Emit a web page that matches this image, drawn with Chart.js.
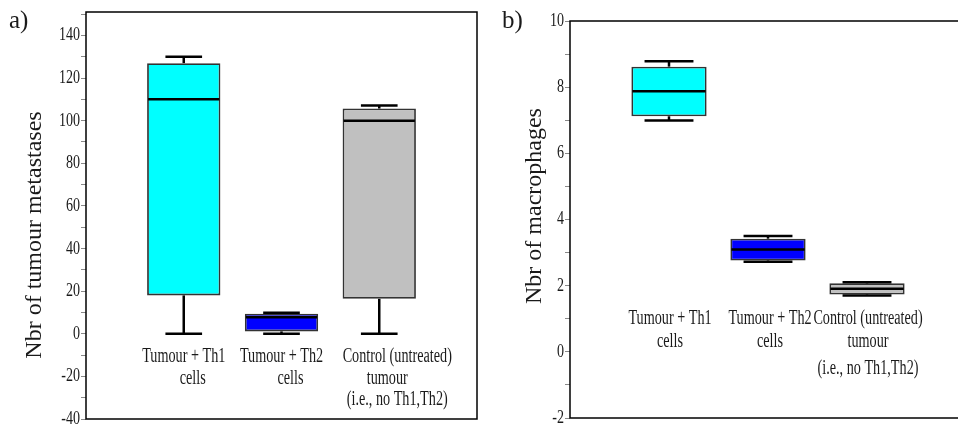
<!DOCTYPE html>
<html>
<head>
<meta charset="utf-8">
<script src="https://cdn.jsdelivr.net/npm/chart.js@4.4.0/dist/chart.umd.min.js"></script>
<style>
  body { margin: 0; background: #fff; overflow: hidden; width: 958px; height: 427px; position: relative; }
  #panelA { position: absolute; left: 0; top: 0; }
  #panelB { position: absolute; left: 480px; top: 0; }
</style>
</head>
<body>
<canvas id="panelA" width="480" height="427"></canvas>
<canvas id="panelB" width="490" height="427"></canvas>
<script>
// grupos (lineas del rotulo de cada caja)
const grupos = [
  ['Tumour + Th1', 'cells'],
  ['Tumour + Th2', 'cells'],
  ['Control (untreated)', 'tumour', '(i.e., no Th1,Th2)']
]
const colores = ['#00ffff', '#0000ff', '#c0c0c0']

// a) metastasis: minimo, cuartiles, mediana, maximo
const metMin = [0, 0, 0]
const metQ1 = [18, 1.1, 16.4]
const metMed = [110, 7.8, 100]
const metQ3 = [127, 9.4, 105.7]
const metMax = [130, 9.9, 107.1]
const ticksA = [-40, -20, 0, 20, 40, 60, 80, 100, 120, 140]

// b) macrofagos
const macMin = [6.99, 2.72, 1.70]
const macQ1 = [7.12, 2.76, 1.73]
const macMed = [7.88, 3.09, 1.91]
const macQ3 = [8.62, 3.42, 2.07]
const macMax = [8.78, 3.50, 2.10]
const ticksB = [-2, 0, 2, 4, 6, 8, 10]

const FUENTE = '"Liberation Serif", "DejaVu Serif", serif'
const TINTA = '#1a1a1a'

// texto estrecho (la fuente se comprime en horizontal)
function texto(ctx, s, x, y, size, align, rotar, k) {
  ctx.save()
  ctx.translate(x, y)
  if (rotar) { ctx.rotate(-Math.PI / 2); ctx.scale(1, k || 0.71) }
  else ctx.scale(k || 0.71, 1)
  ctx.font = size + 'px ' + FUENTE
  ctx.fillStyle = TINTA
  ctx.textAlign = align
  ctx.textBaseline = 'middle'
  ctx.fillText(s, 0, 0)
  ctx.restore()
}

const cajas = {
  id: 'cajas',
  afterDatasetsDraw(chart, args, o) {
    const ctx = chart.ctx, xs = chart.scales.x, ys = chart.scales.y
    const meta = chart.getDatasetMeta(0)
    ctx.save()
    ctx.strokeStyle = '#000'
    ctx.lineWidth = 2.5
    o.med.forEach((m, i) => {
      const bar = meta.data[i]
      const cx = xs.getPixelForValue(i + 1)
      const half = bar.width / 2
      const cap = bar.width * o.cap / 2
      const seg = (x1, y1, x2, y2) => { ctx.beginPath(); ctx.moveTo(x1, y1); ctx.lineTo(x2, y2); ctx.stroke() }
      // bigotes
      seg(cx, ys.getPixelForValue(o.q3[i]), cx, ys.getPixelForValue(o.max[i]))
      seg(cx - cap, ys.getPixelForValue(o.max[i]), cx + cap, ys.getPixelForValue(o.max[i]))
      seg(cx, ys.getPixelForValue(o.q1[i]), cx, ys.getPixelForValue(o.min[i]))
      seg(cx - cap, ys.getPixelForValue(o.min[i]), cx + cap, ys.getPixelForValue(o.min[i]))
      // mediana
      seg(cx - half + 1, ys.getPixelForValue(m), cx + half - 1, ys.getPixelForValue(m))
    })
    ctx.restore()
  },
  afterDraw(chart, args, o) {
    const ctx = chart.ctx, a = chart.chartArea, xs = chart.scales.x, ys = chart.scales.y
    // marco
    ctx.save()
    ctx.strokeStyle = '#000'
    ctx.lineWidth = 1.5
    ctx.strokeRect(a.left, a.top, a.right - a.left, a.bottom - a.top)
    ctx.restore()
    // etiquetas del eje y
    o.ticks.forEach(v => {
      const s = v < 0 ? '-' + Math.abs(v) : String(v)
      texto(ctx, s, a.left - 6, ys.getPixelForValue(v), 19, 'right', false, 0.74)
    })
    texto(ctx, o.titulo, a.left - o.tituloDx, o.tituloY, 24, 'center', true, 0.95)
    // rotulos de los grupos dentro del grafico
    grupos.forEach((lineas, i) => {
      lineas.forEach((s, j) => {
        const x = xs.getPixelForValue(i + 1) + o.dx[i][j]
        texto(ctx, s, x, ys.getPixelForValue(o.filas[j]), 20, 'center')
      })
    })
    ctx.save()
    ctx.font = '25px ' + FUENTE
    ctx.fillStyle = TINTA
    ctx.textBaseline = 'alphabetic'
    ctx.fillText(o.letra, o.letraX, 28)
    ctx.restore()
  }
}

function crear(id, datos, opts) {
  return new Chart(document.getElementById(id), {
    type: 'bar',
    data: {
      datasets: [{
        data: datos.q1.map((q, i) => ({ x: i + 1, y: [q, datos.q3[i]] })),
        backgroundColor: colores,
        borderColor: '#333',
        borderWidth: 1.8,
        borderSkipped: false,
        categoryPercentage: 1,
        barPercentage: opts.ancho
      }]
    },
    plugins: [cajas],
    options: {
      responsive: false,
      animation: false,
      devicePixelRatio: 1,
      layout: { padding: opts.padding },
      plugins: {
        legend: { display: false },
        tooltip: { enabled: false },
        cajas: Object.assign({}, datos, opts.rotulos)
      },
      scales: {
        x: { type: 'linear', min: 0, max: 4, offset: false, display: false, ticks: { stepSize: 1 } },
        y: {
          min: opts.min, max: opts.max,
          afterFit: s => { s.width = opts.izq },
          border: { display: false },
          grid: { drawOnChartArea: false, tickLength: 5, color: '#888' },
          ticks: { display: false, stepSize: opts.paso, includeBounds: false }
        }
      }
    }
  })
}

crear('panelA',
  { min: metMin, q1: metQ1, med: metMed, q3: metQ3, max: metMax, cap: 0.5 },
  {
    ancho: 0.75, min: -40, max: 151, paso: 10, izq: 86,
    padding: { top: 12, bottom: 8, right: 3, left: 0 },
    rotulos: {
      ticks: ticksA, titulo: 'Nbr of tumour metastases', tituloDx: 51, tituloY: 235,
      filas: [-10.8, -21, -31.2], dx: [[0, 9], [0, 9], [18, 8, 18]],
      letra: 'a)', letraX: 9
    }
  })

crear('panelB',
  { min: macMin, q1: macQ1, med: macMed, q3: macQ3, max: macMax, cap: 0.65 },
  {
    ancho: 0.76, min: -2, max: 10, paso: 1, izq: 90,
    padding: { top: 21, bottom: 9, right: 4, left: 0 },
    rotulos: {
      ticks: ticksB, titulo: 'Nbr of macrophages', tituloDx: 35, tituloY: 206,
      filas: [1.01, 0.3, -0.5], dx: [[1, 1], [2, 2], [1, 1, 1]],
      letra: 'b)', letraX: 22
    }
  })
</script>
</body>
</html>
